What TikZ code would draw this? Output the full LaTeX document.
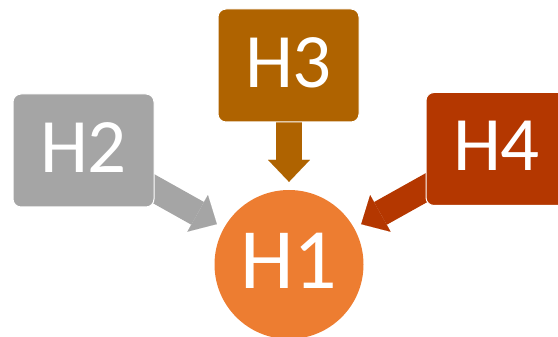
\documentclass[tikz,border=0pt]{standalone}
\usepackage{fontspec}
\setmainfont{Carlito}
\usetikzlibrary{arrows.meta,backgrounds}
\definecolor{cone}{HTML}{ED7D31}
\definecolor{ctwo}{HTML}{A5A5A5}
\definecolor{cthree}{HTML}{AF6300}
\definecolor{cfour}{HTML}{B43700}
\tikzset{
  hbox/.style={rectangle, rounded corners=8pt, draw=white, line width=1pt,
    minimum width=141pt, minimum height=113pt, inner sep=0pt, text=white,
    font=\fontsize{77pt}{77pt}\selectfont},
  hcirc/.style={circle, minimum size=149pt, inner sep=0pt, fill=cone, text=white,
    font=\fontsize{86pt}{86pt}\selectfont},
  barrow/.style={line width=26pt, shorten >=8pt,
    -{Triangle[length=22pt, width=42pt, line width=0.01pt]}}
}
\begin{document}
\begin{tikzpicture}[x=1pt,y=-1pt]
\useasboundingbox (0,0) rectangle (558,337);
\node[hcirc] (h1) at (289,264.5) {\raisebox{4pt}[\height][0pt]{H1}};
\node[hbox, fill=ctwo] (h2) at (83.5,150.5) {\raisebox{3pt}[\height][0pt]{H2}};
\node[hbox, fill=cthree] (h3) at (288.5,65.5) {\raisebox{3pt}[\height][0pt]{H3}};
\node[hbox, fill=cfour] (h4) at (496.5,149) {\raisebox{3pt}[\height][0pt]{H4}};
\coordinate (s2) at (147,185);
\coordinate (s3) at (289,100);
\coordinate (s4) at (433,184);
\begin{pgfonlayer}{background}
\draw[barrow, draw=ctwo, fill=ctwo] (s2) -- (h1);
\draw[barrow, draw=cthree, fill=cthree] (s3) -- (h1);
\draw[barrow, draw=cfour, fill=cfour] (s4) -- (h1);
\end{pgfonlayer}
\end{tikzpicture}
\end{document}
